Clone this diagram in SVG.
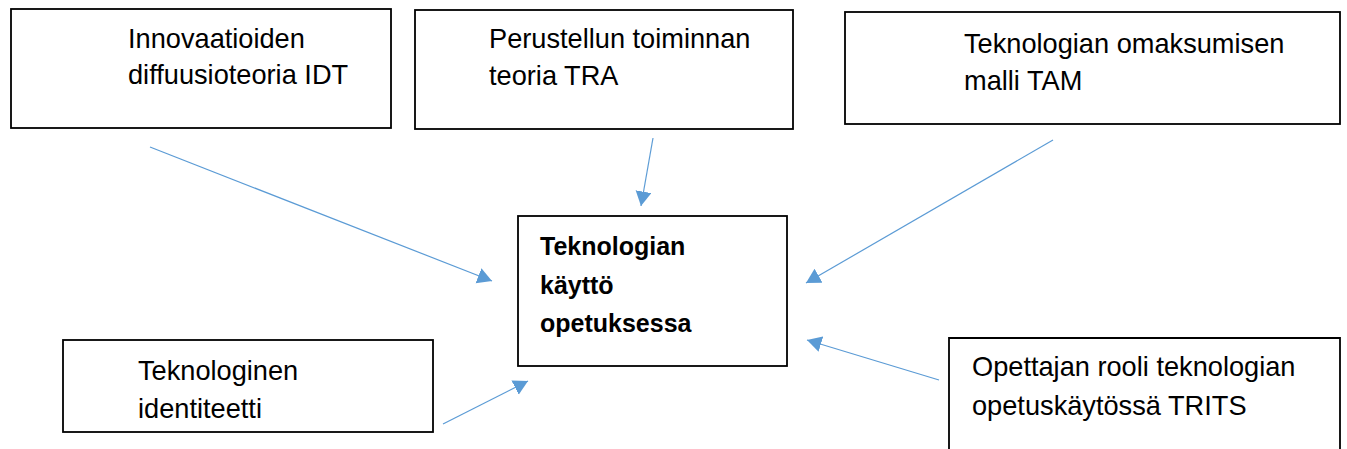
<svg xmlns="http://www.w3.org/2000/svg" width="1347" height="449" viewBox="0 0 1347 449">
  <style>
    .box { fill: #ffffff; stroke: #000000; stroke-width: 1.8; }
    .lbl { font-family: "Liberation Sans", Arial, sans-serif; font-size: 27.2px; fill: #000000; }
    .bold { font-family: "Liberation Sans", Arial, sans-serif; font-size: 25px; font-weight: bold; fill: #000000; }
    .link { stroke: #5B9BD5; stroke-width: 1.2; fill: none; marker-end: url(#head); }
  </style>
  <defs>
    <!-- filled triangular arrowhead, sized in user units -->
    <marker id="head" markerUnits="userSpaceOnUse" markerWidth="16" markerHeight="17" refX="14.5" refY="8" orient="auto">
      <path d="M0,0 L14.5,8 L0,16 z" fill="#5B9BD5"/>
    </marker>
  </defs>
  <rect width="1347" height="449" fill="#ffffff"/>

  <g id="idt">
    <rect class="box" x="11" y="9" width="380" height="119"/>
    <text class="lbl" x="128" y="48">Innovaatioiden</text>
    <text class="lbl" x="128" y="84">diffuusioteoria IDT</text>
  </g>

  <g id="tra">
    <rect class="box" x="415" y="10" width="378" height="119"/>
    <text class="lbl" x="489" y="48">Perustellun toiminnan</text>
    <text class="lbl" x="489" y="85">teoria TRA</text>
  </g>

  <g id="tam">
    <rect class="box" x="845" y="12" width="495" height="112"/>
    <text class="lbl" x="964" y="53">Teknologian omaksumisen</text>
    <text class="lbl" x="964" y="90">malli TAM</text>
  </g>

  <g id="center">
    <rect class="box" x="518" y="216" width="269" height="150"/>
    <text class="bold" x="540" y="255">Teknologian</text>
    <text class="bold" x="540" y="294">käyttö</text>
    <text class="bold" x="540" y="332">opetuksessa</text>
  </g>

  <g id="identity">
    <rect class="box" x="63" y="340" width="370" height="92"/>
    <text class="lbl" x="138" y="380">Teknologinen</text>
    <text class="lbl" x="138" y="418">identiteetti</text>
  </g>

  <g id="trits">
    <path class="box" d="M949,452 L949,338 L1340,338 L1340,452"/>
    <text class="lbl" x="972" y="376">Opettajan rooli teknologian</text>
    <text class="lbl" x="972" y="415">opetuskäytössä TRITS</text>
  </g>

  <g id="connectors">
    <line class="link" x1="150" y1="147" x2="492" y2="281"/>
    <line class="link" x1="653" y1="138" x2="641" y2="206"/>
    <line class="link" x1="1053" y1="140" x2="806" y2="283"/>
    <line class="link" x1="939" y1="380" x2="807" y2="340"/>
    <line class="link" x1="443" y1="424" x2="528" y2="381"/>
  </g>
</svg>
